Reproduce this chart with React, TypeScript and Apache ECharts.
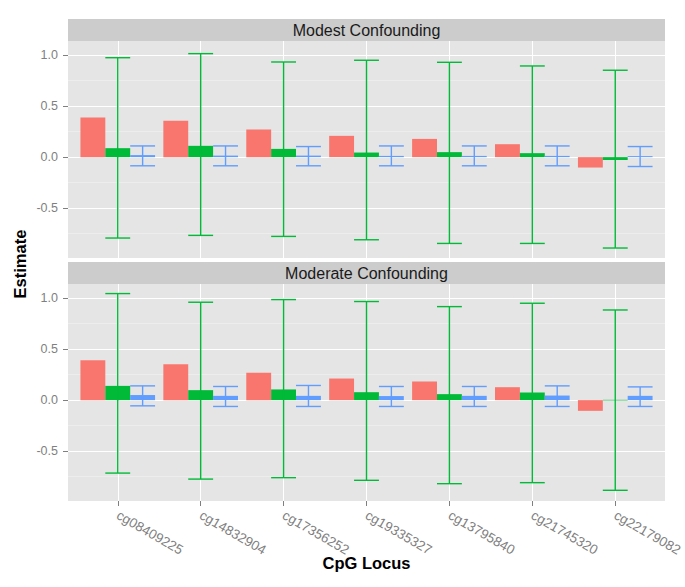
import React, { useEffect, useRef } from 'react';
import * as echarts from 'echarts';

const categories = ['cg08409225', 'cg14832904', 'cg17356252', 'cg19335327', 'cg13795840', 'cg21745320', 'cg22179082'];
const panelTitles = ['Modest Confounding', 'Moderate Confounding'];
const yTicks = [-0.5, 0, 0.5, 1.0];
const yMinorTicks = [-0.75, -0.25, 0.25, 0.75];

// Modest confounding
const modestRed = [0.388, 0.356, 0.271, 0.209, 0.179, 0.127, -0.102];
const modestGreen = [0.088, 0.111, 0.081, 0.045, 0.049, 0.039, -0.028];
const modestBlue = [0.02, 0.015, 0.015, 0.012, 0.012, 0.012, 0.01];
const modestGreenLo = [-0.794, -0.768, -0.778, -0.811, -0.847, -0.847, -0.892];
const modestGreenHi = [0.976, 1.016, 0.934, 0.951, 0.931, 0.895, 0.853];
const modestBlueLo = [-0.085, -0.085, -0.085, -0.085, -0.085, -0.085, -0.092];
const modestBlueHi = [0.11, 0.11, 0.104, 0.11, 0.11, 0.11, 0.104];

// Moderate confounding
const moderateRed = [0.392, 0.353, 0.27, 0.212, 0.183, 0.127, -0.105];
const moderateGreen = [0.14, 0.098, 0.105, 0.078, 0.059, 0.075, 0.003];
const moderateBlue = [0.05, 0.042, 0.042, 0.04, 0.042, 0.045, 0.042];
const moderateGreenLo = [-0.716, -0.775, -0.761, -0.787, -0.82, -0.81, -0.885];
const moderateGreenHi = [1.046, 0.961, 0.987, 0.968, 0.918, 0.951, 0.885];
const moderateBlueLo = [-0.056, -0.062, -0.062, -0.062, -0.062, -0.062, -0.062];
const moderateBlueHi = [0.14, 0.134, 0.144, 0.134, 0.134, 0.14, 0.13];

const RED = '#F8766D';
const GREEN = '#00BA38';
const BLUE = '#619CFF';
const FONT = '"Liberation Sans", Arial, Helvetica, sans-serif';

const Y_MIN = -0.99;
const Y_MAX = 1.14;
const BAR_W = 0.3;

const panelLayout = [
  { top: 41, height: 217, stripTop: 19 },
  { top: 284, height: 217, stripTop: 262 },
];
const LEFT = 68;
const WIDTH = 597;

function barSeries(g: number, values: number[], offset: number, color: string) {
  return {
    type: 'custom',
    xAxisIndex: g,
    yAxisIndex: g * 2,
    clip: true,
    z: 3,
    data: values.map((v, i) => [i, v]),
    renderItem: (_p: any, api: any) => {
      const x = api.value(0);
      const v = api.value(1);
      const a = api.coord([x + offset - BAR_W / 2, v]);
      const b = api.coord([x + offset + BAR_W / 2, 0]);
      return {
        type: 'rect',
        shape: {
          x: Math.min(a[0], b[0]),
          y: Math.min(a[1], b[1]),
          width: Math.abs(b[0] - a[0]),
          height: Math.max(Math.abs(b[1] - a[1]), 0.6),
        },
        style: { fill: color },
      };
    },
  };
}

function errSeries(g: number, lo: number[], hi: number[], offset: number, color: string) {
  return {
    type: 'custom',
    xAxisIndex: g,
    yAxisIndex: g * 2,
    clip: true,
    z: 4,
    data: lo.map((l, i) => [i, l, hi[i]]),
    renderItem: (_p: any, api: any) => {
      const x = api.value(0) + offset;
      const top = api.coord([x, api.value(2)]);
      const bot = api.coord([x, api.value(1)]);
      const tl = api.coord([x - BAR_W / 2, api.value(2)]);
      const tr = api.coord([x + BAR_W / 2, api.value(2)]);
      const bl = api.coord([x - BAR_W / 2, api.value(1)]);
      const br = api.coord([x + BAR_W / 2, api.value(1)]);
      const st = { stroke: color, lineWidth: 1.4 };
      return {
        type: 'group',
        children: [
          { type: 'line', shape: { x1: top[0], y1: top[1], x2: bot[0], y2: bot[1] }, style: st },
          { type: 'line', shape: { x1: tl[0], y1: tl[1], x2: tr[0], y2: tr[1] }, style: st },
          { type: 'line', shape: { x1: bl[0], y1: bl[1], x2: br[0], y2: br[1] }, style: st },
        ],
      };
    },
  };
}

export default function App() {
  const ref = useRef<HTMLDivElement>(null);

  useEffect(() => {
    if (!ref.current) return;
    const chart = echarts.init(ref.current, undefined, { renderer: 'svg' });
    const catIdx = categories.map((_, i) => i);

    const grids = panelLayout.map((p) => ({
      left: LEFT,
      top: p.top,
      width: WIDTH,
      height: p.height,
      show: true,
      backgroundColor: '#E5E5E5',
      borderWidth: 0,
      containLabel: false,
      outerBoundsMode: 'none',
    }));

    const xAxes = panelLayout.map((_, g) => ({
      type: 'value',
      gridIndex: g,
      position: 'bottom',
      min: -0.6,
      max: 6.6,
      axisLine: { show: false, onZero: false },
      axisTick: {
        show: g === 1,
        customValues: catIdx,
        length: 5,
        lineStyle: { color: '#7F7F7F', width: 1 },
      },
      axisLabel: {
        show: g === 1,
        customValues: catIdx,
        formatter: (v: number) => categories[Math.round(v)] ?? '',
        rotate: -30,
        margin: 13,
        color: '#7F7F7F',
        fontSize: 13.5,
        fontFamily: FONT,
      },
      splitLine: { show: true, lineStyle: { color: '#FFFFFF', width: 1 } },
    }));

    const yAxes: any[] = [];
    panelLayout.forEach((_, g) => {
      yAxes.push({
        type: 'value',
        gridIndex: g,
        position: 'left',
        min: Y_MIN,
        max: Y_MAX,
        axisLine: { show: false, onZero: false },
        axisTick: {
          show: true,
          customValues: yTicks,
          length: 5,
          lineStyle: { color: '#7F7F7F', width: 1 },
        },
        axisLabel: {
          show: true,
          customValues: yTicks,
          formatter: (v: number) => v.toFixed(1),
          margin: 10,
          color: '#7F7F7F',
          fontSize: 12.5,
          fontFamily: FONT,
        },
        splitLine: { show: true, lineStyle: { color: '#FFFFFF', width: 1 } },
        z: 1,
      });
      yAxes.push({
        type: 'value',
        gridIndex: g,
        position: 'left',
        min: Y_MIN,
        max: Y_MAX,
        axisLine: { show: false, onZero: false },
        axisTick: { show: false, customValues: yMinorTicks },
        axisLabel: { show: false, customValues: yMinorTicks },
        splitLine: { show: true, lineStyle: { color: '#F2F2F2', width: 0.6 } },
        z: 0,
      });
    });

    const series = [
      barSeries(0, modestRed, -0.3, RED),
      barSeries(0, modestGreen, 0, GREEN),
      barSeries(0, modestBlue, 0.3, BLUE),
      errSeries(0, modestGreenLo, modestGreenHi, 0, GREEN),
      errSeries(0, modestBlueLo, modestBlueHi, 0.3, BLUE),
      barSeries(1, moderateRed, -0.3, RED),
      barSeries(1, moderateGreen, 0, GREEN),
      barSeries(1, moderateBlue, 0.3, BLUE),
      errSeries(1, moderateGreenLo, moderateGreenHi, 0, GREEN),
      errSeries(1, moderateBlueLo, moderateBlueHi, 0.3, BLUE),
    ];

    const graphics: any[] = [];
    panelLayout.forEach((p, g) => {
      graphics.push({
        type: 'rect',
        shape: { x: LEFT, y: p.stripTop, width: WIDTH, height: p.top - p.stripTop },
        style: { fill: '#CCCCCC' },
        silent: true,
      });
      graphics.push({
        type: 'text',
        x: LEFT + WIDTH / 2,
        y: (p.stripTop + p.top) / 2,
        style: {
          text: panelTitles[g],
          fill: '#1A1A1A',
          font: `16px ${FONT}`,
          textAlign: 'center',
          textVerticalAlign: 'middle',
        },
        silent: true,
      });
    });
    graphics.push({
      type: 'text',
      x: LEFT + WIDTH / 2,
      y: 563,
      style: {
        text: 'CpG Locus',
        fill: '#000000',
        font: `bold 16.5px ${FONT}`,
        textAlign: 'center',
        textVerticalAlign: 'middle',
      },
      silent: true,
    });
    graphics.push({
      type: 'text',
      x: 20,
      y: 264,
      rotation: Math.PI / 2,
      style: {
        text: 'Estimate',
        fill: '#000000',
        font: `bold 16.5px ${FONT}`,
        textAlign: 'center',
        textVerticalAlign: 'middle',
      },
      silent: true,
    });

    chart.setOption({
      animation: false,
      backgroundColor: '#FFFFFF',
      grid: grids,
      xAxis: xAxes,
      yAxis: yAxes,
      series,
      graphic: graphics,
    });

    return () => chart.dispose();
  }, []);

  return (
    <div
      ref={ref}
      style={{ position: 'fixed', left: 0, top: 0, width: 685, height: 587 }}
    />
  );
}
